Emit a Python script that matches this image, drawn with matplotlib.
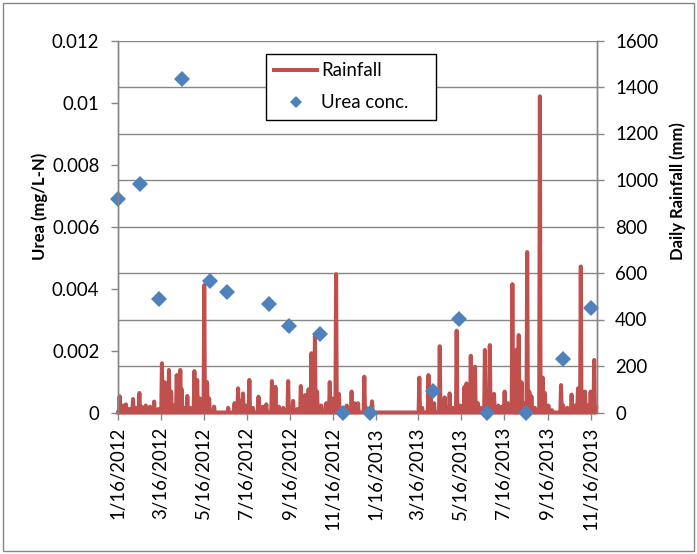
import matplotlib
matplotlib.use("Agg")
import matplotlib.pyplot as plt
import matplotlib.dates as mdates
import matplotlib.ticker as ticker
from matplotlib.patches import Rectangle
import pandas as pd

# daily rainfall events (mm); days not listed had no rain
rain_dates = [
    "2012-01-18", "2012-01-23", "2012-01-27", "2012-02-01", "2012-02-06", "2012-02-10",
    "2012-02-15", "2012-02-18", "2012-02-24", "2012-03-01", "2012-03-07", "2012-03-13",
    "2012-03-18", "2012-03-22", "2012-03-25", "2012-03-28", "2012-03-31", "2012-04-03",
    "2012-04-08", "2012-04-13", "2012-04-15", "2012-04-18", "2012-04-23", "2012-04-27",
    "2012-05-03", "2012-05-07", "2012-05-11", "2012-05-17", "2012-05-19", "2012-05-21",
    "2012-05-24", "2012-05-31", "2012-06-20", "2012-06-29", "2012-07-04", "2012-07-08",
    "2012-07-11", "2012-07-15", "2012-07-20", "2012-07-25", "2012-08-02", "2012-08-08",
    "2012-08-13", "2012-08-21", "2012-08-26", "2012-08-31", "2012-09-06", "2012-09-13",
    "2012-09-20", "2012-09-26", "2012-10-01", "2012-10-07", "2012-10-12", "2012-10-16",
    "2012-10-21", "2012-10-24", "2012-10-30", "2012-11-06", "2012-11-11", "2012-11-15",
    "2012-11-20", "2012-11-24", "2012-11-30", "2012-12-05", "2012-12-12", "2012-12-16",
    "2012-12-21", "2012-12-30", "2013-01-02", "2013-01-10",
    "2013-03-18", "2013-03-22", "2013-03-31", "2013-04-03", "2013-04-08", "2013-04-16",
    "2013-04-20", "2013-04-23", "2013-04-30", "2013-05-05", "2013-05-10", "2013-05-15",
    "2013-05-21", "2013-05-24", "2013-05-27", "2013-05-30", "2013-06-03", "2013-06-05",
    "2013-06-09", "2013-06-13", "2013-06-19", "2013-06-22", "2013-06-26", "2013-06-29",
    "2013-07-02", "2013-07-08", "2013-07-13", "2013-07-17", "2013-07-22", "2013-07-28",
    "2013-07-31", "2013-08-03", "2013-08-06", "2013-08-10", "2013-08-14", "2013-08-18",
    "2013-08-21", "2013-08-24", "2013-08-29", "2013-09-05", "2013-09-09", "2013-09-12",
    "2013-09-17", "2013-09-22", "2013-10-05", "2013-10-08", "2013-10-14", "2013-10-20",
    "2013-10-25", "2013-10-29", "2013-11-02", "2013-11-05", "2013-11-08", "2013-11-12",
    "2013-11-16", "2013-11-21", "2013-11-24",
]
rain_mm = [
    70, 30, 35, 15, 58, 20,
    84, 25, 30, 25, 47, 15,
    212, 130, 120, 183, 90, 30,
    161, 183, 100, 20, 71, 20,
    178, 140, 60, 548, 90, 131,
    60, 25, 20, 40, 104, 50,
    82, 30, 140, 20, 68, 25,
    35, 135, 110, 25, 20, 135,
    50, 15, 114, 75, 100, 255,
    330, 90, 30, 40, 131, 60,
    595, 80, 20, 30, 90, 40,
    40, 154, 20, 48,
    150, 20, 161, 60, 40, 285,
    30, 65, 82, 20, 352, 30,
    110, 125, 100, 244, 150, 197,
    40, 20, 269, 100, 290, 70,
    80, 30, 25, 90, 40, 552,
    80, 270, 333, 130, 40, 690,
    90, 70, 20, 1360, 150, 84,
    30, 10, 118, 30, 20, 77,
    30, 104, 628, 60, 90, 30,
    90, 226, 20,
]
rain_start, rain_end = "2012-01-16", "2013-11-24"

# urea sampling
urea_dates = [
    "2012-01-16", "2012-02-16", "2012-03-14", "2012-04-16", "2012-05-25", "2012-06-18",
    "2012-08-17", "2012-09-14", "2012-10-28", "2012-11-30", "2013-01-07", "2013-04-07",
    "2013-05-13", "2013-06-22", "2013-08-17", "2013-10-08", "2013-11-17",
]
urea_conc = [
    0.00689, 0.00737, 0.00366, 0.01076, 0.00424, 0.00388,
    0.00351, 0.00279, 0.00253, 0.0, 0.0, 0.00069,
    0.00303, 0.0, 0.0, 0.00173, 0.00338,
]

x_ticks = [
    "2012-01-16", "2012-03-16", "2012-05-16", "2012-07-16", "2012-09-16", "2012-11-16",
    "2013-01-16", "2013-03-16", "2013-05-16", "2013-07-16", "2013-09-16", "2013-11-16",
]
urea_ticks = [0, 0.002, 0.004, 0.006, 0.008, 0.01, 0.012]
rain_ticks = [0, 200, 400, 600, 800, 1000, 1200, 1400, 1600]

RAIN_COLOR = "#C0504D"
UREA_COLOR = "#4F81BD"
GRAY = "#868686"

plt.rcParams["font.family"] = ["Lato", "DejaVu Sans"]
plt.rcParams["font.size"] = 13.4

days = pd.date_range(rain_start, rain_end, freq="D")
rain = pd.Series(rain_mm, index=pd.to_datetime(rain_dates)).reindex(days, fill_value=0)

fig = plt.figure(figsize=(6.97, 5.54), dpi=100)
fig.patches.append(Rectangle((3 / 697, 3 / 554), 691 / 697, 548 / 554, transform=fig.transFigure,
                             fill=False, edgecolor=GRAY, linewidth=1))

ax = fig.add_axes([117.5 / 697, 141.5 / 554, 479.5 / 697, 372 / 554])
ax2 = ax.twinx()
ax.set_zorder(ax2.get_zorder() + 1)
ax.patch.set_visible(False)

# rainfall sits over the bottom axis line
rain_line, = ax2.plot(rain.index, rain.values, color=RAIN_COLOR, linewidth=2.9,
                      solid_joinstyle="round", clip_on=False, zorder=3, label="Rainfall")
urea_pts, = ax.plot(pd.to_datetime(urea_dates), urea_conc, linestyle="none", marker="D",
                    markersize=7.8, markeredgewidth=0, color=UREA_COLOR, clip_on=False,
                    label="Urea conc.")

ax.set_xlim(pd.Timestamp("2012-01-15"), pd.Timestamp("2013-11-25"))
ax.set_ylim(0, 0.012)
ax2.set_ylim(0, 1600)

ax.set_xticks(pd.to_datetime(x_ticks))
ax.xaxis.set_major_formatter(mdates.DateFormatter("%-m/%-d/%Y"))
ax.tick_params(axis="x", rotation=90, direction="out", length=5, width=1, color=GRAY, pad=5.5)

ax.set_yticks(urea_ticks)
ax.yaxis.set_major_formatter(ticker.FuncFormatter(lambda v, _: f"{v:g}"))
ax.tick_params(axis="y", direction="out", length=5, width=1, color=GRAY, pad=8)

ax2.set_yticks(rain_ticks)
ax2.tick_params(axis="y", direction="out", length=5, width=1, color=GRAY, pad=8)
ax2.grid(axis="y", color=GRAY, linewidth=1)

for a in (ax, ax2):
    a.spines["top"].set_visible(False)
    for side in ("left", "right", "bottom"):
        a.spines[side].set_color(GRAY)
        a.spines[side].set_linewidth(1)
ax.spines["bottom"].set_visible(False)

ax.set_ylabel("Urea (mg/L-N)", fontsize=12, fontweight="bold")
ax.yaxis.set_label_coords(-0.1616, 0.5551)
ax.yaxis.label.set_va("center")
ax2.set_ylabel("Daily Rainfall (mm)", fontsize=12, fontweight="bold")
ax2.yaxis.set_label_coords(1.1689, 0.5954)
ax2.yaxis.label.set_va("center")

leg = ax.legend([rain_line, urea_pts], ["Rainfall", "Urea conc."], loc="upper left",
                bbox_to_anchor=(0.3097, 0.7594, 0.3545, 0.2043), mode="expand",
                borderaxespad=0, fancybox=False, edgecolor="black", framealpha=1,
                handlelength=2.3, handletextpad=0.2, borderpad=0.45, labelspacing=0.8,
                markerscale=0.75)
leg.get_frame().set_linewidth(1)

fig.savefig("out.png", dpi=100)
